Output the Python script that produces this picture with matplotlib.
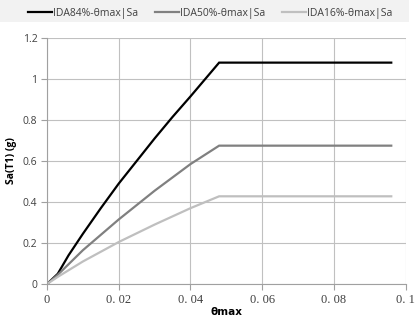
import matplotlib
matplotlib.use("Agg")
import matplotlib.pyplot as plt
from matplotlib.patches import Rectangle

# data
theta_84 = [0, 0.003, 0.006, 0.01, 0.015, 0.02, 0.025, 0.03, 0.035, 0.04, 0.048, 0.096]
sa_84 = [0, 0.05, 0.14, 0.245, 0.37, 0.49, 0.60, 0.71, 0.815, 0.915, 1.08, 1.08]
theta_50 = [0, 0.003, 0.01, 0.02, 0.03, 0.04, 0.048, 0.096]
sa_50 = [0, 0.045, 0.165, 0.315, 0.455, 0.585, 0.675, 0.675]
theta_16 = [0, 0.003, 0.01, 0.02, 0.03, 0.04, 0.048, 0.096]
sa_16 = [0, 0.035, 0.11, 0.205, 0.29, 0.37, 0.428, 0.428]

labels = ["IDA84%-θmax|Sa", "IDA50%-θmax|Sa", "IDA16%-θmax|Sa"]
colors = ["#000000", "#808080", "#bfbfbf"]
x_ticks = [0, 0.02, 0.04, 0.06, 0.08, 0.1]
x_ticklabels = ["0", "0. 02", "0. 04", "0. 06", "0. 08", "0. 1"]
y_ticks = [0, 0.2, 0.4, 0.6, 0.8, 1.0, 1.2]
y_ticklabels = ["0", "0.2", "0.4", "0.6", "0.8", "1", "1.2"]

fig = plt.figure(figsize=(4.16, 3.25), dpi=100)
ax = fig.add_axes([0.113, 0.126, 0.862, 0.757])

# legend band at top
fig.patches.append(Rectangle((0, 0.932), 0.982, 0.068, transform=fig.transFigure,
                             facecolor="#f2f2f2", edgecolor="none", zorder=0))

for xs, ys, c, lab in zip([theta_84, theta_50, theta_16], [sa_84, sa_50, sa_16], colors, labels):
    ax.plot(xs, ys, color=c, lw=1.6, label=lab, solid_joinstyle="miter")

ax.set_xlim(0, 0.1)
ax.set_ylim(0, 1.2)
ax.set_xticks(x_ticks)
ax.set_xticklabels(x_ticklabels, fontfamily="Liberation Serif", fontsize=9, color="#404040")
ax.set_yticks(y_ticks)
ax.set_yticklabels(y_ticklabels, fontfamily="Open Sans", fontsize=7.5, color="#404040")
ax.grid(True, color="#c0c0c0", lw=0.8)
ax.set_axisbelow(True)
for s in ["top", "right"]:
    ax.spines[s].set_visible(False)
for s in ["left", "bottom"]:
    ax.spines[s].set_color("#a0a0a0")
    ax.spines[s].set_linewidth(0.8)
ax.tick_params(length=4, color="#a0a0a0", width=0.8, pad=3)

ax.set_xlabel("θmax", fontsize=7.5, fontweight="bold", fontfamily="DejaVu Sans", labelpad=1)
ax.set_ylabel("Sa(T1) (g)", fontsize=7.5, fontweight="bold", fontfamily="Open Sans", labelpad=4)

fig.legend(loc="upper left", bbox_to_anchor=(0.045, 1.005), ncol=3, frameon=False,
           prop={"family": "Open Sans", "size": 7.5}, handlelength=2.3, handletextpad=0.1,
           columnspacing=1.6, labelcolor="#404040")

fig.savefig("out.png", dpi=100)
